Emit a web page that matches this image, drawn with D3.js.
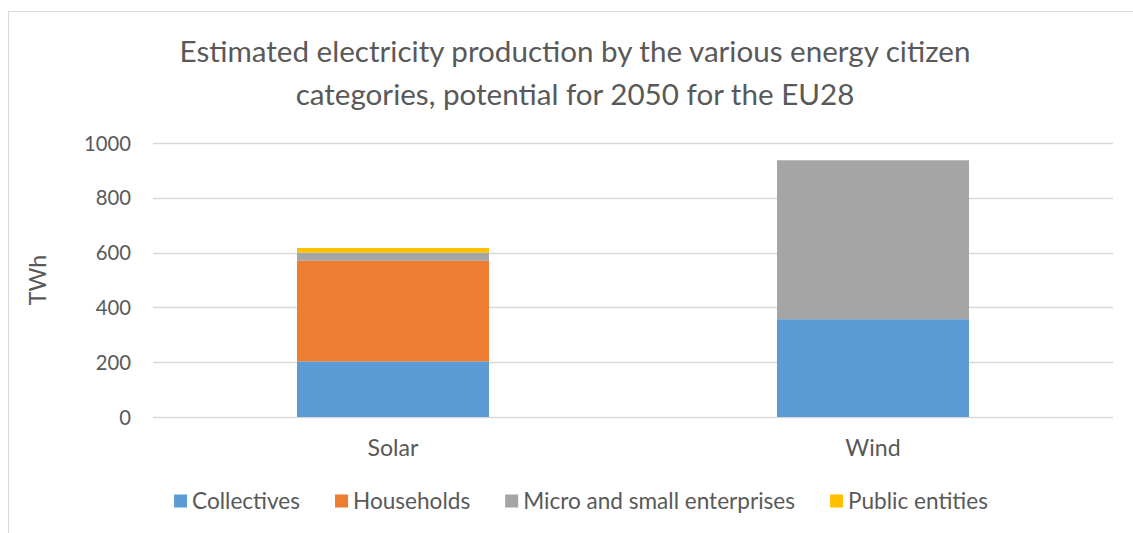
<!DOCTYPE html>
<html>
<head>
<meta charset="utf-8">
<script src="https://cdn.jsdelivr.net/npm/d3@7"></script>
<style>
  html, body { margin: 0; padding: 0; background: #fff; }
  svg { display: block; }
  text { font-family: Lato, "Open Sans", sans-serif; fill: #595959; }
</style>
</head>
<body>
<svg id="chart" width="1133" height="533"></svg>
<script>
// Electricity production potential (TWh) by energy citizen category, 2050, EU28
const categories = ["Solar", "Wind"];
const seriesNames = ["Collectives", "Households", "Micro and small enterprises", "Public entities"];
const collectives = [203, 357];
const households = [367, 0];
const microSmall = [30, 580];
const publicEntities = [17, 0];
const yTicks = [0, 200, 400, 600, 800, 1000];
const titleLines = ["Estimated electricity production by the various energy citizen",
                    "categories, potential for 2050 for the EU28"];
const yLabel = "TWh";

const colors = ["#5B9BD5", "#ED7D31", "#A5A5A5", "#FFC000"];
const seriesValues = [collectives, households, microSmall, publicEntities];

const rows = categories.map((c, i) => {
  const r = { category: c };
  seriesNames.forEach((s, k) => { r[s] = seriesValues[k][i]; });
  return r;
});
const stacked = d3.stack().keys(seriesNames)(rows);

const svg = d3.select("#chart");
const plot = { left: 153, right: 1113, top: 143, bottom: 417 };

// Chart area border
svg.append("rect")
  .attr("x", 8.5).attr("y", 11.5).attr("width", 1140).attr("height", 540)
  .attr("fill", "none").attr("stroke", "#D9D9D9").attr("stroke-width", 1);

// Scale a text element so that it spans a given width
function fitText(sel, width, base) {
  sel.style("font-size", base + "px");
  const w = sel.node().getComputedTextLength();
  const size = (base * width / w).toFixed(2) + "px";
  sel.style("font-size", size);
  return size;
}

const x = d3.scaleBand().domain(categories)
  .range([plot.left, plot.right]).paddingInner(0.6).paddingOuter(0.3);
const y = d3.scaleLinear().domain([0, 1000]).range([plot.bottom, plot.top]);

// Gridlines
svg.append("g").selectAll("line").data(yTicks).join("line")
  .attr("x1", plot.left).attr("x2", plot.right)
  .attr("y1", d => Math.round(y(d)) + 0.5).attr("y2", d => Math.round(y(d)) + 0.5)
  .attr("stroke", "#D9D9D9").attr("stroke-width", 1.3);

// Y axis tick labels
const yAxis = svg.append("g")
  .attr("transform", `translate(${plot.left - 22},0)`)
  .call(d3.axisLeft(y).tickValues(yTicks).tickFormat(d3.format("d")).tickSize(0).tickPadding(0));
yAxis.select(".domain").remove();
yAxis.selectAll("text")
  .attr("fill", "#595959").attr("dy", "0.35em")
  .style("font-family", "Lato, 'Open Sans', sans-serif");
const tickSize = fitText(yAxis.selectAll("text").filter(d => d === 1000), 47, 18);
yAxis.selectAll("text").style("font-size", tickSize);

// Stacked bars
svg.append("g").selectAll("g").data(stacked).join("g")
  .attr("fill", (d, i) => colors[i])
  .selectAll("rect").data(d => d.map(v => ({ v, cat: v.data.category }))).join("rect")
  .attr("x", d => x(d.cat))
  .attr("width", x.bandwidth())
  .attr("y", d => y(d.v[1]))
  .attr("height", d => y(d.v[0]) - y(d.v[1]));

// Category axis labels
const xAxis = svg.append("g")
  .attr("transform", `translate(0,${plot.bottom})`)
  .call(d3.axisBottom(x).tickSize(0).tickPadding(0));
xAxis.select(".domain").remove();
xAxis.selectAll("text")
  .attr("y", 31).attr("dy", "0.35em").attr("fill", "#595959")
  .style("font-family", "Lato, 'Open Sans', sans-serif");
const catSize = fitText(xAxis.selectAll("text").filter(d => d === "Solar"), 51, 18);
xAxis.selectAll("text").style("font-size", catSize);

// Y axis title
svg.append("text")
  .attr("transform", "translate(38,280) rotate(-90)")
  .attr("text-anchor", "middle").attr("dy", "0.35em")
  .style("font-size", catSize)
  .text(yLabel);

// Title
const tl1 = svg.append("text").attr("x", 575).attr("y", 52)
  .attr("text-anchor", "middle").attr("dy", "0.35em").text(titleLines[0]);
const titleSize = fitText(tl1, 791, 26);
svg.append("text").attr("x", 575).attr("y", 95)
  .attr("text-anchor", "middle").attr("dy", "0.35em")
  .style("font-size", titleSize)
  .text(titleLines[1]);

// Legend
const legend = svg.append("g");
const items = legend.selectAll("g").data(seriesNames).join("g");
items.append("rect").attr("width", 13).attr("height", 13).attr("y", -6.5)
  .attr("fill", (d, i) => colors[i]);
items.append("text").attr("x", 18).attr("dy", "0.35em").text(d => d);
const legSize = fitText(items.selectAll("text").filter(d => d === "Micro and small enterprises"), 272, 18);
items.selectAll("text").style("font-size", legSize);
let offset = 0;
const widths = [];
items.each(function () {
  widths.push(18 + d3.select(this).select("text").node().getComputedTextLength());
});
const gap = 35;
const total = d3.sum(widths) + gap * (widths.length - 1);
const startX = 581 - total / 2;
items.attr("transform", (d, i) => {
  const t = `translate(${startX + offset},501)`;
  offset += widths[i] + gap;
  return t;
});
</script>
</body>
</html>
